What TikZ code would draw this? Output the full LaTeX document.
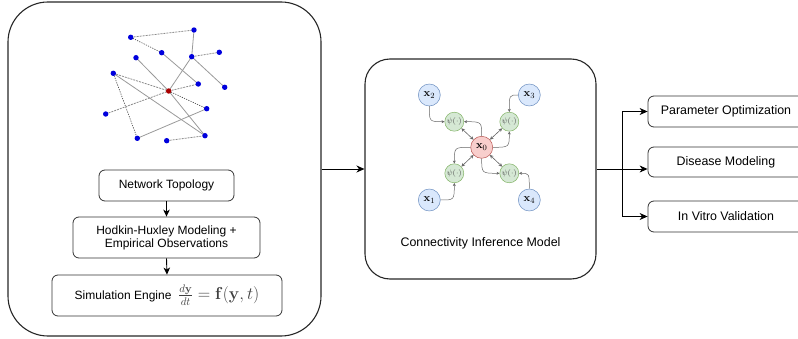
\documentclass[tikz,border=0pt]{standalone}
\usepackage[no-math]{fontspec}
\setmainfont{Liberation Sans}
\usetikzlibrary{arrows.meta,backgrounds}
\definecolor{bfill}{HTML}{DAE8FC}\definecolor{bdraw}{HTML}{6C8EBF}
\definecolor{gfill}{HTML}{D5E8D4}\definecolor{gdraw}{HTML}{82B366}
\definecolor{rfill}{HTML}{F8CECC}\definecolor{rdraw}{HTML}{B85450}
\definecolor{dotblue}{HTML}{0000DD}\definecolor{dotred}{HTML}{AA0000}
\begin{document}
\begin{tikzpicture}[x=1pt,y=-1pt,
  bigbox/.style={draw=black!85,line width=1.1pt,inner sep=0pt},
  sbox/.style={draw=black!80,line width=0.8pt,rounded corners=6pt,align=center,inner sep=0pt,font=\fontsize{12}{14}\selectfont},
  rbox/.style={draw=black!80,line width=0.8pt,rounded corners=6pt,align=center,inner sep=0pt,font=\fontsize{12.4}{14}\selectfont},
  arr/.style={line width=0.9pt,-{Stealth[length=8pt,width=7pt,inset=2.5pt]}},
  sarr/.style={line width=0.9pt,-{Stealth[length=7pt,width=6.5pt,inset=2pt]}},
  dot/.style={circle,fill=dotblue,inner sep=0pt,minimum size=5.4pt},
  rdot/.style={circle,fill=dotred,inner sep=0pt,minimum size=5.4pt},
  edge/.style={draw=black!40,line width=0.8pt},
  dedge/.style={draw=black!45,line width=0.8pt,dash pattern=on 2pt off 1pt},
  kedge/.style={draw=black!75,line width=0.6pt,dash pattern=on 1.2pt off 1.2pt},
  bc/.style={circle,draw=bdraw,fill=bfill,line width=0.5pt,minimum size=22pt,inner sep=0pt,font=\fontsize{11}{12}\selectfont},
  gc/.style={circle,draw=gdraw,fill=gfill,line width=0.5pt,minimum size=19pt,inner sep=0pt,font=\fontsize{8.5}{9}\selectfont,text=black!70},
  rc/.style={circle,draw=rdraw,fill=rfill,line width=0.5pt,minimum size=22pt,inner sep=0pt,font=\fontsize{11}{12}\selectfont},
  marr/.style={draw=black!60,line width=0.5pt,-{Stealth[length=3pt,width=3pt]}},
  marr2/.style={draw=black!60,line width=0.6pt,{Stealth[length=3.5pt,width=3.5pt]}-{Stealth[length=3.5pt,width=3.5pt]}}]
\useasboundingbox (0,0) rectangle (798,339);
\clip (0,0) rectangle (798,339);
% big boxes
\node[bigbox,rounded corners=40pt,minimum width=313pt,minimum height=334pt] (L) at (164.5,169) {};
\node[bigbox,rounded corners=25pt,minimum width=231pt,minimum height=220pt] (M) at (480.5,169) {};
% network
\node[dot] (A) at (194,30) {};
\node[dot] (B) at (130.7,37.3) {};
\node[dot] (C) at (161.7,52.7) {};
\node[dot] (D) at (191.7,56.7) {};
\node[dot] (E) at (219.3,52.3) {};
\node[dot] (F) at (136,57.7) {};
\node[dot] (G) at (113.3,73.3) {};
\node[dot] (H) at (198.3,84) {};
\node[dot] (I) at (224.7,87.3) {};
\node[dot] (J) at (105.7,114) {};
\node[dot] (K) at (206.7,108.7) {};
\node[dot] (Lq) at (137.3,138.3) {};
\node[dot] (Mq) at (166.7,140.7) {};
\node[dot] (N) at (205,135.7) {};
\node[rdot] (Z) at (168.7,91) {};
\begin{pgfonlayer}{background}
\path[dedge] (B.center) -- (A.center);
\path[edge] (A.center) -- (D.center);
\path[kedge] (B.center) -- (C.center);
\path[edge] (C.center) -- (H.center);
\path[dedge] (D.center) -- (E.center);
\path[edge] (D.center) -- (I.center);
\path[edge] (D.center) -- (Z.center);
\path[edge] (F.center) -- (Z.center);
\path[dedge] (G.center) -- (Z.center);
\path[kedge] (G.center) -- (Lq.center);
\path[edge] (G.center) -- (N.center);
\path[dedge] (J.center) -- (Z.center);
\path[dedge] (Z.center) -- (H.center);
\path[kedge] (Z.center) -- (K.center);
\path[edge] (Z.center) -- (N.center);
\path[edge] (Lq.center) -- (K.center);
\path[dedge] (Mq.center) -- (N.center);
\end{pgfonlayer}
% left column
\node[sbox,minimum width=135pt,minimum height=31pt] (NT) at (166.5,185.5) {Network Topology};
\node[sbox,minimum width=187pt,minimum height=41pt] (HH) at (166.5,237.5) {Hodkin-Huxley Modeling +\\[-1pt]Empirical Observations};
\node[sbox,minimum width=230pt,minimum height=41pt] (SE) at (167,295.5) {Simulation Engine\ \ {\fontsize{16}{18}\selectfont\color{black!75}$\frac{d\mathbf{y}}{dt}=\mathbf{f}(\mathbf{y},t)$}};
\draw[sarr] (NT.south) -- (HH.north);
\draw[sarr] (HH.south) -- (SE.north);
% middle model
\node[bc] (x2) at (429.3,95) {$\mathbf{x}_2$};
\node[bc] (x3) at (529.3,95) {$\mathbf{x}_3$};
\node[bc] (x1) at (429.3,200) {$\mathbf{x}_1$};
\node[bc] (x4) at (529.3,200) {$\mathbf{x}_4$};
\node[gc] (pTL) at (454.3,121.7) {$\psi(\cdot)$};
\node[gc] (pTR) at (509.3,121.7) {$\psi(\cdot)$};
\node[gc] (pBL) at (454.3,173.3) {$\psi(\cdot)$};
\node[gc] (pBR) at (509.3,173.3) {$\psi(\cdot)$};
\node[rc] (x0) at (481.7,147.3) {$\mathbf{x}_0$};
\draw[marr] (x2.south) .. controls (429.3,121.7) .. (pTL.west);
\draw[marr] (x3.west) .. controls (509.3,95) .. (pTR.north);
\draw[marr] (x1.east) .. controls (454.3,200) .. (pBL.south);
\draw[marr] (x4.north) .. controls (529.3,173.3) .. (pBR.east);
\draw[marr] (x0.north) .. controls (481.7,121.7) .. (pTL.east);
\draw[marr] (x0.east) .. controls (509.3,147.3) .. (pTR.south);
\draw[marr] (x0.west) .. controls (454.3,147.3) .. (pBL.north);
\draw[marr] (x0.south) .. controls (481.7,173.3) .. (pBR.west);
\draw[marr2] (pTL) -- (x0);
\draw[marr2] (pTR) -- (x0);
\draw[marr2] (pBL) -- (x0);
\draw[marr2] (pBR) -- (x0);
\node[font=\fontsize{12.4}{14}\selectfont] (cim) at (480.5,243) {Connectivity Inference Model};
% right side
\node[rbox,minimum width=156pt,minimum height=31pt] (P) at (726,111.5) {Parameter Optimization};
\node[rbox,minimum width=156pt,minimum height=30pt] (Dm) at (726,162) {Disease Modeling};
\node[rbox,minimum width=156pt,minimum height=31pt] (V) at (726,216.5) {In Vitro Validation};
\coordinate (Jn) at (622,169);
\draw[arr] (L.east) -- (M.west);
\draw[line width=0.9pt] (M.east) -- (Jn);
\draw[arr] (Jn) |- (P.west);
\draw[arr] (Jn) |- (V.west);
\draw[arr] (Jn) -- (Jn -| Dm.west);
\end{tikzpicture}
\end{document}
